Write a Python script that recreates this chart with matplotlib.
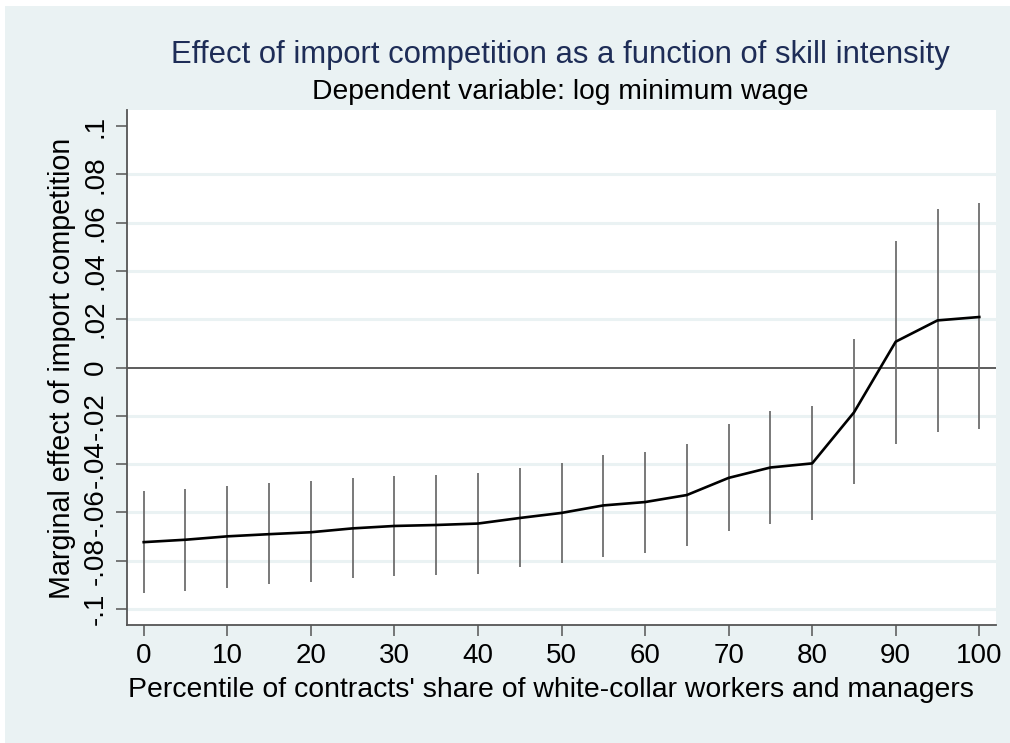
import matplotlib
matplotlib.use("Agg")
import matplotlib.pyplot as plt
from matplotlib.patches import Rectangle

# percentile of white-collar share and marginal effect with 95% CI
pctl = [0, 5, 10, 15, 20, 25, 30, 35, 40, 45, 50, 55, 60, 65, 70, 75, 80, 85, 90, 95, 100]
effect = [-0.0723, -0.0713, -0.0699, -0.0690, -0.0682, -0.0666, -0.0656, -0.0652, -0.0646, -0.0623, -0.0602,
          -0.0571, -0.0557, -0.0528, -0.0457, -0.0414, -0.0397, -0.0186, 0.0107, 0.0195, 0.0209]
ci_hi = [-0.0510, -0.0502, -0.0490, -0.0478, -0.0471, -0.0458, -0.0448, -0.0444, -0.0438, -0.0416, -0.0396,
         -0.0364, -0.0349, -0.0315, -0.0233, -0.0182, -0.0161, 0.0120, 0.0525, 0.0655, 0.0680]
ci_lo = [-0.0932, -0.0925, -0.0911, -0.0895, -0.0887, -0.0873, -0.0864, -0.0858, -0.0853, -0.0826, -0.0810,
         -0.0783, -0.0766, -0.0739, -0.0676, -0.0648, -0.0631, -0.0483, -0.0315, -0.0265, -0.0255]

y_ticks = [-0.1, -0.08, -0.06, -0.04, -0.02, 0, 0.02, 0.04, 0.06, 0.08, 0.1]
y_labels = ["-.1", "-.08", "-.06", "-.04", "-.02", "0", ".02", ".04", ".06", ".08", ".1"]
x_ticks = [0, 10, 20, 30, 40, 50, 60, 70, 80, 90, 100]

plt.rcParams['font.family'] = ['Liberation Sans', 'DejaVu Sans']

W, H = 1010, 743
bg = '#eaf2f3'
fig = plt.figure(figsize=(W / 100, H / 100), dpi=100, facecolor='white')
fig.patches.append(Rectangle((5 / W, 0), 1, (H - 6) / H, transform=fig.transFigure,
                             facecolor=bg, edgecolor='none', zorder=-10))

ax = fig.add_axes([127 / W, (H - 625) / H, (996 - 127) / W, (625 - 110) / H])
ax.set_facecolor('white')

# grid lines
for yv in y_ticks[:-1]:
    if yv != 0:
        ax.axhline(yv, color=bg, lw=2.2, zorder=1)
ax.axhline(0, color='#303030', lw=1.1, zorder=2)

ax.vlines(pctl, ci_lo, ci_hi, color='#6e6e6e', lw=1.3, zorder=3)
ax.plot(pctl, effect, color='black', lw=1.9, zorder=4)

ax.set_xlim(-2, 102)
ax.set_ylim(-0.1066, 0.1066)
ax.set_xticks(x_ticks)
ax.set_xticklabels([str(v) for v in x_ticks], fontsize=20)
ax.set_yticks(y_ticks)
ax.set_yticklabels(y_labels, fontsize=20, rotation=90, va='center')
ax.tick_params(axis='both', length=8, width=1.1, color='#555555', pad=5)

for s in ['top', 'right']:
    ax.spines[s].set_visible(False)
for s in ['left', 'bottom']:
    ax.spines[s].set_color('#555555')
    ax.spines[s].set_linewidth(1.3)

fig.text(560 / W, 1 - 55 / H, "Effect of import competition as a function of skill intensity",
         ha='center', va='center', fontsize=22.3, color='#1e2d57')
fig.text(560 / W, 1 - 92 / H, "Dependent variable: log minimum wage",
         ha='center', va='center', fontsize=20.3, color='black')
fig.text(551 / W, 1 - 690 / H, "Percentile of contracts' share of white-collar workers and managers",
         ha='center', va='center', fontsize=20.4, color='black')
fig.text(62 / W, 1 - 368 / H, "Marginal effect of import competition",
         ha='center', va='center', fontsize=20.6, rotation=90, color='black')

fig.savefig("out.png", dpi=100, facecolor=fig.get_facecolor())
